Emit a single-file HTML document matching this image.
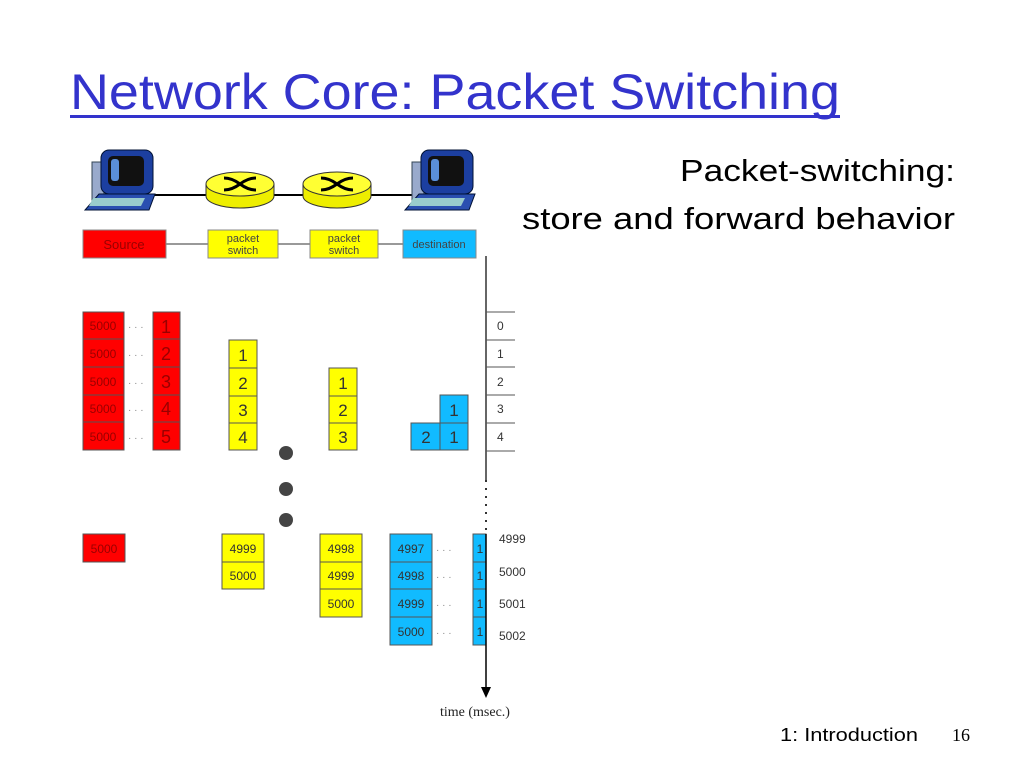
<!DOCTYPE html>
<html><head><meta charset="utf-8"><style>
html,body{margin:0;padding:0;background:#fff;}
svg{display:block;}
</style></head><body>
<svg width="1024" height="768" viewBox="0 0 1024 768" xmlns="http://www.w3.org/2000/svg" font-family="Liberation Sans, sans-serif">
<defs>
<g id="pc">
  <rect x="7" y="12" width="12" height="38" fill="#9ac" stroke="#345" stroke-width="1"/>
  <rect x="16" y="0" width="52" height="44" rx="8" fill="#1c3fa0" stroke="#013" stroke-width="1"/>
  <rect x="23" y="6" width="36" height="30" rx="5" fill="#111"/>
  <rect x="26" y="9" width="8" height="22" rx="3" fill="#5a8fd8"/>
  <polygon points="14,44 70,44 64,60 0,60" fill="#2a4fb0" stroke="#013"/>
  <polygon points="8,48 60,48 56,56 4,56" fill="#9cc"/>
</g>
<g id="rt">
  <path d="M-34,-6 v12 a34,12 0 0 0 68,0 v-12" fill="#ee0" stroke="#333"/>
  <ellipse cx="0" cy="-6" rx="34" ry="12" fill="#ff3" stroke="#333"/>
  <path d="M-16,-12 q8,0 16,6 q8,6 16,6 M-16,0 q8,0 16,-6 q8,-6 16,-6" fill="none" stroke="#000" stroke-width="3"/>
</g>
</defs>
<text x="70" y="109" font-size="50" fill="#3333cc" textLength="770" lengthAdjust="spacingAndGlyphs">Network Core: Packet Switching</text>
<rect x="70" y="115" width="770" height="3" fill="#3333cc"/>
<text x="680" y="181" font-size="31" fill="#000" textLength="275" lengthAdjust="spacingAndGlyphs">Packet-switching:</text>
<text x="522" y="229" font-size="31" fill="#000" textLength="433" lengthAdjust="spacingAndGlyphs">store and forward behavior</text>

<line x1="150" y1="195" x2="415" y2="195" stroke="#000" stroke-width="2"/>
<use href="#pc" x="85" y="150"/>
<use href="#pc" x="405" y="150"/>
<use href="#rt" x="240" y="190"/>
<use href="#rt" x="337" y="190"/>

<line x1="166" y1="244" x2="403" y2="244" stroke="#999" stroke-width="2"/>
<rect x="83" y="230" width="83" height="28" fill="#f00" stroke="#888"/>
<text x="124" y="249" font-size="13" text-anchor="middle" fill="#900">Source</text>
<rect x="208" y="230" width="70" height="28" fill="#ff0" stroke="#888"/>
<text x="243" y="242" font-size="11" text-anchor="middle" fill="#444">packet</text><text x="243" y="254" font-size="11" text-anchor="middle" fill="#444">switch</text>
<rect x="310" y="230" width="68" height="28" fill="#ff0" stroke="#888"/>
<text x="344" y="242" font-size="11" text-anchor="middle" fill="#444">packet</text><text x="344" y="254" font-size="11" text-anchor="middle" fill="#444">switch</text>
<rect x="403" y="230" width="73" height="28" fill="#1bf" stroke="#888"/>
<text x="439" y="248" font-size="11" text-anchor="middle" fill="#444">destination</text>

<g stroke="#555" stroke-width="1">
<rect x="83" y="312" width="41" height="27" fill="#f00"/><rect x="153" y="312" width="27" height="27" fill="#f00"/>
<rect x="83" y="339" width="41" height="28" fill="#f00"/><rect x="153" y="339" width="27" height="28" fill="#f00"/>
<rect x="83" y="367" width="41" height="28" fill="#f00"/><rect x="153" y="367" width="27" height="28" fill="#f00"/>
<rect x="83" y="395" width="41" height="27" fill="#f00"/><rect x="153" y="395" width="27" height="27" fill="#f00"/>
<rect x="83" y="422" width="41" height="28" fill="#f00"/><rect x="153" y="422" width="27" height="28" fill="#f00"/>
<rect x="229" y="340" width="28" height="28" fill="#ff0"/><rect x="229" y="368" width="28" height="28" fill="#ff0"/>
<rect x="229" y="396" width="28" height="27" fill="#ff0"/><rect x="229" y="423" width="28" height="27" fill="#ff0"/>
<rect x="329" y="368" width="28" height="28" fill="#ff0"/><rect x="329" y="396" width="28" height="27" fill="#ff0"/>
<rect x="329" y="423" width="28" height="27" fill="#ff0"/>
<rect x="440" y="395" width="28" height="28" fill="#1bf"/>
<rect x="411" y="423" width="29" height="27" fill="#1bf"/><rect x="440" y="423" width="28" height="27" fill="#1bf"/>
<rect x="83" y="534" width="42" height="28" fill="#f00"/>
<rect x="222" y="534" width="42" height="28" fill="#ff0"/><rect x="222" y="562" width="42" height="27" fill="#ff0"/>
<rect x="320" y="534" width="42" height="28" fill="#ff0"/><rect x="320" y="562" width="42" height="27" fill="#ff0"/><rect x="320" y="589" width="42" height="28" fill="#ff0"/>
<rect x="390" y="534" width="42" height="28" fill="#1bf"/><rect x="390" y="562" width="42" height="27" fill="#1bf"/>
<rect x="390" y="589" width="42" height="28" fill="#1bf"/><rect x="390" y="617" width="42" height="28" fill="#1bf"/>
<rect x="473" y="534" width="13" height="28" fill="#1bf"/><rect x="473" y="562" width="13" height="27" fill="#1bf"/>
<rect x="473" y="589" width="13" height="28" fill="#1bf"/><rect x="473" y="617" width="13" height="28" fill="#1bf"/>
</g>
<g font-size="12" fill="#900" text-anchor="middle">
<text x="103" y="330">5000</text><text x="103" y="358">5000</text><text x="103" y="386">5000</text><text x="103" y="413">5000</text><text x="103" y="441">5000</text>
<text x="104" y="553">5000</text>
</g>
<g font-size="18" fill="#900" text-anchor="middle">
<text x="166" y="333">1</text><text x="166" y="360">2</text><text x="166" y="388">3</text><text x="166" y="415">4</text><text x="166" y="443">5</text>
</g>
<g font-size="10" fill="#888">
<text x="128" y="330">· · ·</text><text x="128" y="358">· · ·</text><text x="128" y="386">· · ·</text><text x="128" y="413">· · ·</text><text x="128" y="441">· · ·</text>
<text x="436" y="553">· · ·</text><text x="436" y="580">· · ·</text><text x="436" y="608">· · ·</text><text x="436" y="636">· · ·</text>
</g>
<g font-size="17" fill="#333" text-anchor="middle">
<text x="243" y="361">1</text><text x="243" y="389">2</text><text x="243" y="416">3</text><text x="243" y="443">4</text>
<text x="343" y="389">1</text><text x="343" y="416">2</text><text x="343" y="443">3</text>
<text x="454" y="416">1</text><text x="426" y="443">2</text><text x="454" y="443">1</text>
</g>
<g font-size="12" fill="#333" text-anchor="middle">
<text x="243" y="553">4999</text><text x="243" y="580">5000</text>
<text x="341" y="553">4998</text><text x="341" y="580">4999</text><text x="341" y="608">5000</text>
<text x="411" y="553">4997</text><text x="411" y="580">4998</text><text x="411" y="608">4999</text><text x="411" y="636">5000</text>
<text x="480" y="553">1</text><text x="480" y="580">1</text><text x="480" y="608">1</text><text x="480" y="636">1</text>
</g>
<circle cx="286" cy="453" r="7" fill="#444"/><circle cx="286" cy="489" r="7" fill="#444"/><circle cx="286" cy="520" r="7" fill="#444"/>
<line x1="486" y1="256" x2="486" y2="480" stroke="#333" stroke-width="1.5"/>
<line x1="486" y1="480" x2="486" y2="532" stroke="#333" stroke-width="2" stroke-dasharray="2,6"/>
<line x1="486" y1="534" x2="486" y2="688" stroke="#000" stroke-width="1.5"/>
<polygon points="481,687 491,687 486,698" fill="#000"/>
<g stroke="#555" stroke-width="1">
<line x1="486" y1="312" x2="515" y2="312"/><line x1="486" y1="340" x2="515" y2="340"/><line x1="486" y1="367" x2="515" y2="367"/>
<line x1="486" y1="395" x2="515" y2="395"/><line x1="486" y1="423" x2="515" y2="423"/><line x1="486" y1="451" x2="515" y2="451"/>
</g>
<g font-size="12" fill="#333">
<text x="497" y="330">0</text><text x="497" y="358">1</text><text x="497" y="386">2</text><text x="497" y="413">3</text><text x="497" y="441">4</text>
<text x="499" y="543">4999</text><text x="499" y="576">5000</text><text x="499" y="608">5001</text><text x="499" y="640">5002</text>
</g>
<text x="440" y="716" font-size="14" fill="#222" font-family="Liberation Serif, serif">time  (msec.)</text>
<text x="780" y="741" font-size="18" fill="#000" textLength="138" lengthAdjust="spacingAndGlyphs">1: Introduction</text>
<text x="952" y="741" font-size="18" fill="#000" font-family="Liberation Serif, serif">16</text>
</svg>
</body></html>
